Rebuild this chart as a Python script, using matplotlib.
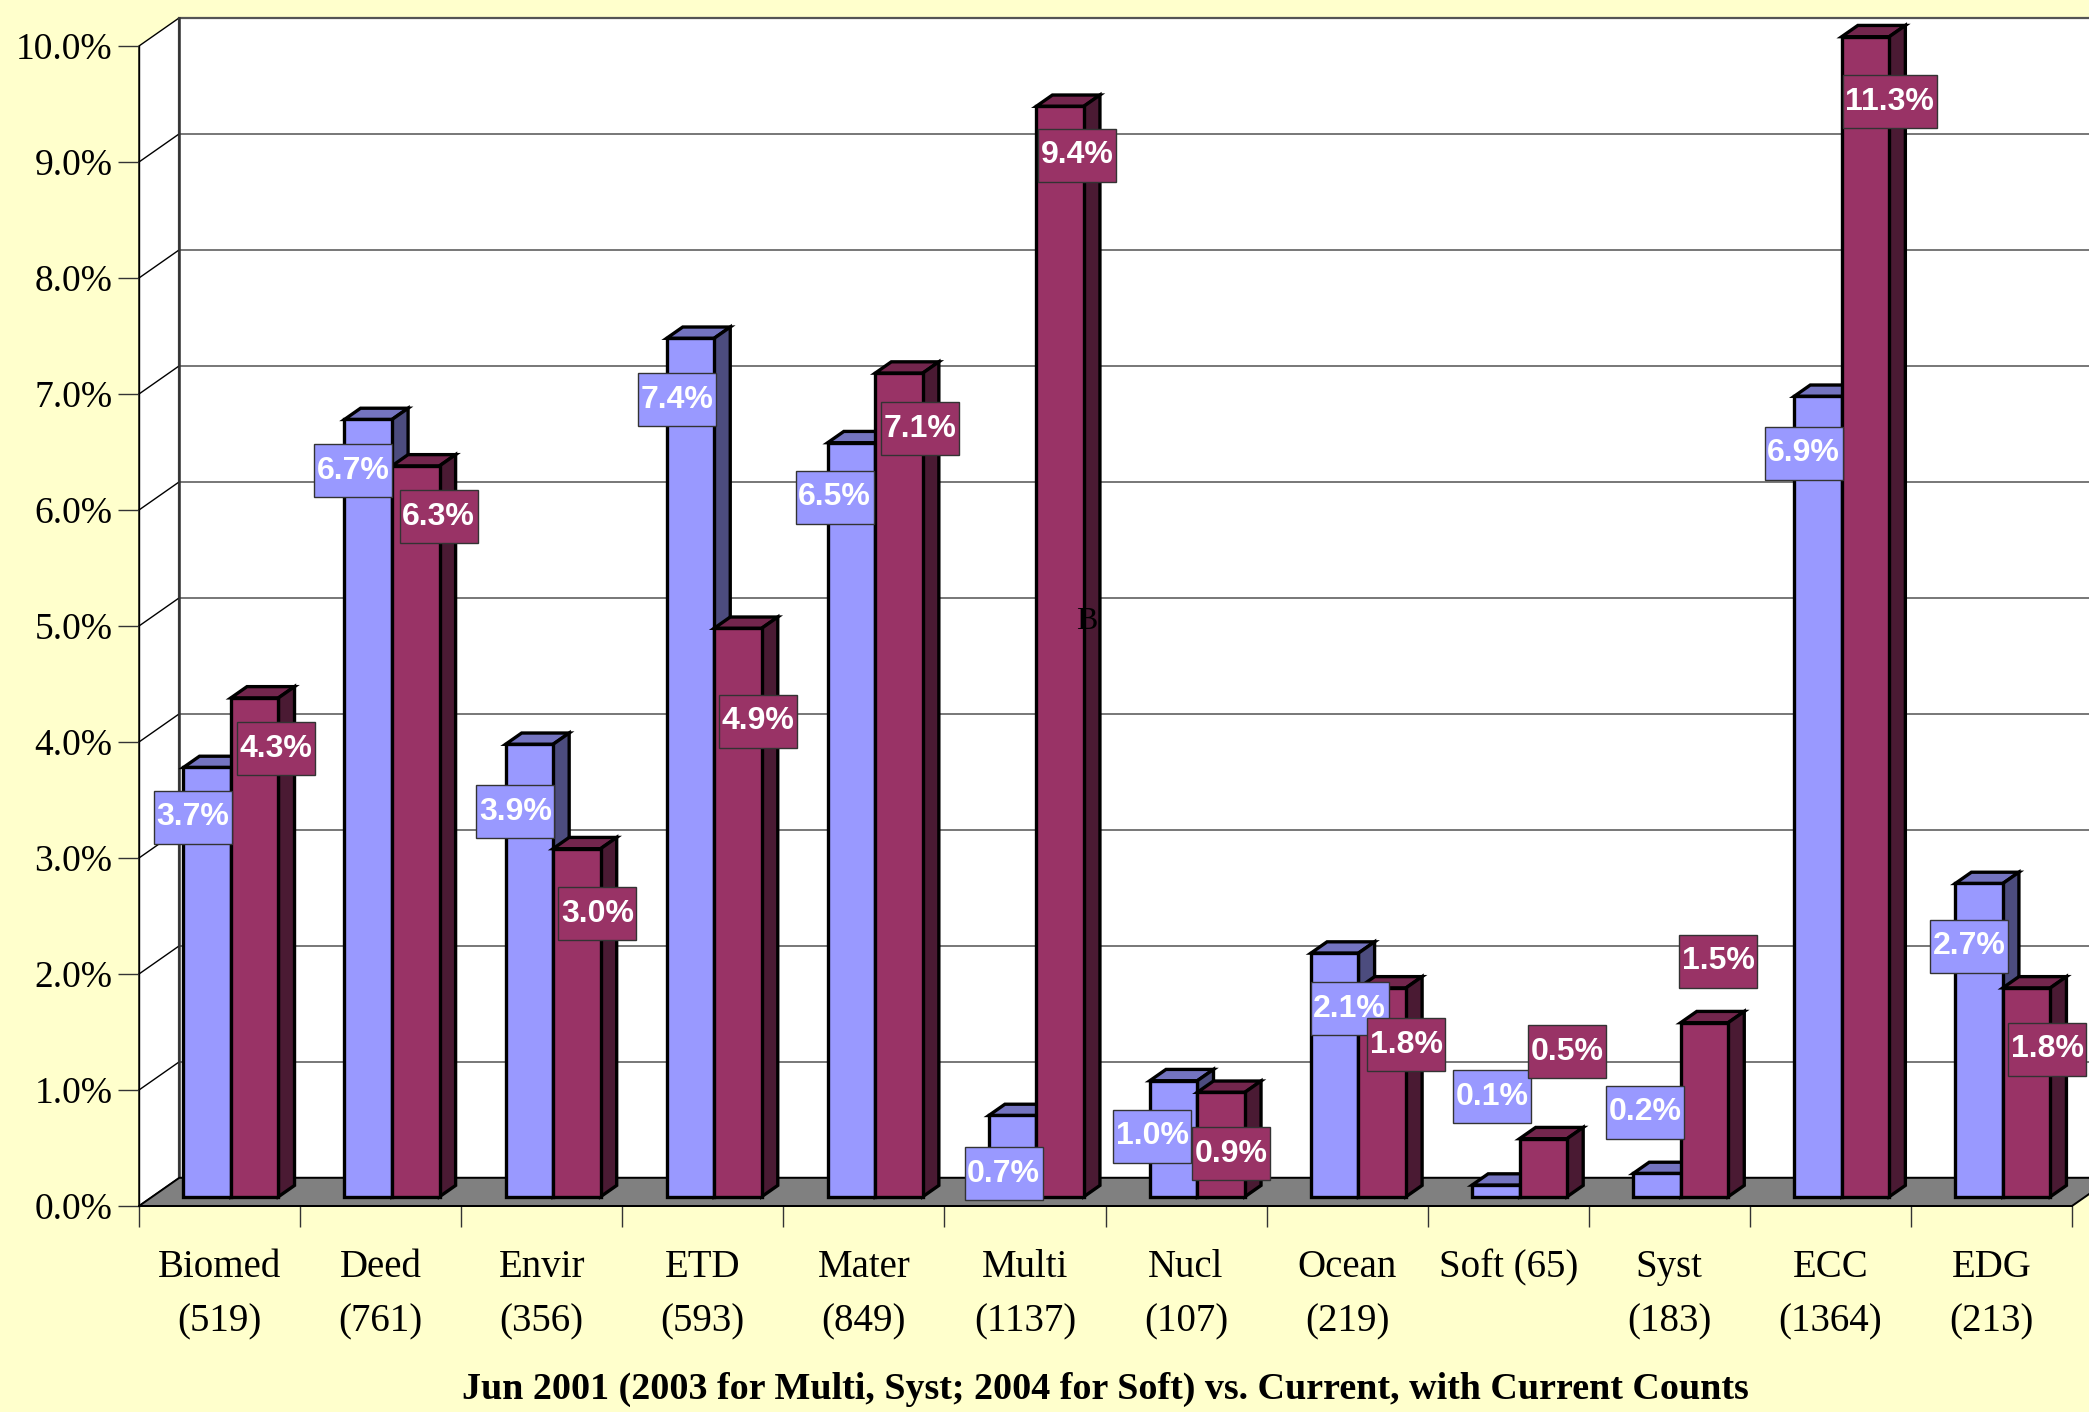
import matplotlib
matplotlib.use('Agg')
import matplotlib.pyplot as plt
from matplotlib.patches import Polygon
from matplotlib.path import Path
from matplotlib.ticker import FixedLocator, NullFormatter, FixedFormatter

# ---------------- data ----------------
categories = ['Biomed', 'Deed', 'Envir', 'ETD', 'Mater', 'Multi', 'Nucl',
              'Ocean', 'Soft', 'Syst', 'ECC', 'EDG']
counts = ['519', '761', '356', '593', '849', '1137', '107', '219', '65',
          '183', '1364', '213']
jun2001 = [3.7, 6.7, 3.9, 7.4, 6.5, 0.7, 1.0, 2.1, 0.1, 0.2, 6.9, 2.7]
current = [4.3, 6.3, 3.0, 4.9, 7.1, 9.4, 0.9, 1.8, 0.5, 1.5, 11.3, 1.8]
y_ticks = [0, 1, 2, 3, 4, 5, 6, 7, 8, 9, 10]
title = 'Jun 2001 (2003 for Multi, Syst; 2004 for Soft) vs. Current, with Current Counts'
stray_text = 'B'

# ---------------- style ----------------
W, H = 2089, 1412
DPI = 100
BG = '#FFFFCC'
BLUE = ('#9999FF', '#7474C0', '#4C4C7E')   # front, top, side
RED = ('#993366', '#73264D', '#4A1A33')
YMAX = 10.0
DX, DY = 0.25, 0.243          # depth of the floor/back wall (data units)
F0, F1 = 0.33, 0.73           # bar front / back depth fractions
BAR_W = 0.295
PAIR_C = 0.488
SERIF = ['Liberation Serif', 'DejaVu Serif']
SANS = ['Liberation Sans', 'DejaVu Sans']

# label placement (style): x relative to category left, y offset from bar top
blue_lab_x = [0.335, 0.328, 0.337, 0.342, 0.318, 0.368, 0.29, 0.515, 0.40, 0.35, 0.335, 0.36]
blue_lab_dy = [-0.35, -0.36, -0.50, -0.45, -0.39, -0.42, -0.40, -0.40, 0.84, 0.61, -0.41, -0.46]
red_lab_x = [0.852, 0.861, 0.845, 0.842, 0.847, 0.823, 0.78, 0.866, 0.867, 0.805, 0.869, 0.845]
red_lab_dy = [-0.36, -0.36, -0.48, -0.72, -0.40, -0.34, -0.45, -0.41, 0.83, 0.61, -0.48, -0.45]


def label_box(x0, y0, width, height, mutation_size):
    px, py = 0.08 * mutation_size, 0.36 * mutation_size
    x0, y0 = x0 - px, y0 - py
    x1, y1 = x0 + width + 2 * px, y0 + height + 2 * py
    return Path([(x0, y0), (x1, y0), (x1, y1), (x0, y1), (x0, y0)], closed=True)


fig = plt.figure(figsize=(W / DPI, H / DPI), dpi=DPI, facecolor=BG)
ax = fig.add_axes([139 / W, (H - 1206) / H, (2072 - 139) / W, (1206 - 46) / H])
ax.set_facecolor('none')
n = len(categories)
ax.set_xlim(0, n)
ax.set_ylim(0, YMAX)

# walls
side = Polygon([(0, 0), (0, YMAX), (DX, YMAX + DY), (DX, DY)], closed=True,
               fc='white', ec='black', lw=1.0, clip_on=False, zorder=0.5)
back = Polygon([(DX, DY), (DX, YMAX + DY), (n + DX, YMAX + DY), (n + DX, DY)], closed=True,
               fc='white', ec='#555555', lw=1.6, clip_on=False, zorder=0.5)
ax.add_patch(side)
ax.add_patch(back)
ax.plot([DX, DX], [DY, YMAX + DY], color='#333333', lw=1.8, clip_on=False, zorder=0.8)
for t in y_ticks[1:-1]:
    ax.plot([DX, n + DX], [t + DY, t + DY], color='#777777', lw=1.4, clip_on=False, zorder=0.7)
    ax.plot([0, DX], [t, t + DY], color='black', lw=1.0, clip_on=False, zorder=0.7)

floor = Polygon([(0, 0), (n, 0), (n + DX, DY), (DX, DY)], closed=True,
                fc='#808080', ec='black', lw=1.4, clip_on=False, zorder=1)
ax.add_patch(floor)


def draw_series(vals, offset, colors, z):
    hs = [min(v, YMAX) for v in vals]
    xs = [i + offset + F0 * DX for i in range(n)]
    ddx, ddy = (F1 - F0) * DX, (F1 - F0) * DY
    for x, h in zip(xs, hs):
        yb, yt = F0 * DY, h + F0 * DY
        xr = x + BAR_W
        top = Polygon([(x, yt), (xr, yt), (xr + ddx, yt + ddy), (x + ddx, yt + ddy)],
                      closed=True, fc=colors[1], ec='black', lw=2.4, joinstyle='miter',
                      clip_on=False, zorder=z)
        sd = Polygon([(xr, yb), (xr + ddx, yb + ddy), (xr + ddx, yt + ddy), (xr, yt)],
                     closed=True, fc=colors[2], ec='black', lw=2.4, joinstyle='miter',
                     clip_on=False, zorder=z)
        ax.add_patch(top)
        ax.add_patch(sd)
    ax.bar(xs, hs, width=BAR_W, bottom=F0 * DY, align='edge', color=colors[0],
           edgecolor='black', linewidth=2.4, zorder=z + 0.01, clip_on=False)
    return hs


hb = draw_series(jun2001, PAIR_C - BAR_W, BLUE, 2)
hr = draw_series(current, PAIR_C, RED, 3)

for i in range(n):
    ax.text(i + blue_lab_x[i], hb[i] + blue_lab_dy[i], f'{jun2001[i]:.1f}%',
            ha='center', va='center', color='white', fontsize=23, fontweight='bold',
            family=SANS, zorder=5,
            bbox=dict(boxstyle=label_box, fc=BLUE[0], ec='#333333', lw=1.0))
    ax.text(i + red_lab_x[i], hr[i] + red_lab_dy[i], f'{current[i]:.1f}%',
            ha='center', va='center', color='white', fontsize=23, fontweight='bold',
            family=SANS, zorder=5,
            bbox=dict(boxstyle=label_box, fc=RED[0], ec='#333333', lw=1.0))

ax.text(5.885, 5.04, stray_text, ha='center', va='center', fontsize=23,
        family=SERIF, color='black', zorder=6)

# axes, ticks
for s in ['top', 'right']:
    ax.spines[s].set_visible(False)
ax.spines['left'].set_linewidth(1.0)
ax.spines['bottom'].set_linewidth(1.4)
ax.spines['left'].set_zorder(4)
ax.spines['bottom'].set_zorder(4)

ax.set_yticks(y_ticks)
ax.set_yticklabels([f'{t:.1f}%' for t in y_ticks], fontsize=27, family=SERIF)
ax.tick_params(axis='y', direction='out', length=15, width=1.0, color='#333333', pad=4)

xlabels = [f'{c} ({k})' if c == 'Soft' else f'{c}\n({k})' for c, k in zip(categories, counts)]
ax.xaxis.set_major_locator(FixedLocator(list(range(n + 1))))
ax.xaxis.set_major_formatter(NullFormatter())
ax.xaxis.set_minor_locator(FixedLocator([i + 0.5 for i in range(n)]))
ax.xaxis.set_minor_formatter(FixedFormatter(xlabels))
ax.tick_params(axis='x', which='major', direction='out', length=15, width=1.0, color='#333333')
ax.tick_params(axis='x', which='minor', length=0, pad=31)
for lab in ax.xaxis.get_minorticklabels():
    lab.set_fontsize(28)
    lab.set_family(SERIF)
    lab.set_linespacing(1.62)
    lab.set_verticalalignment('top')

fig.text((139 + (2072 - 139) / 2) / W, 1 - 1389 / H, title, ha='center', va='center',
         fontsize=27.4, fontweight='bold', family=SERIF)

fig.savefig('out.png', dpi=DPI, facecolor=BG)
